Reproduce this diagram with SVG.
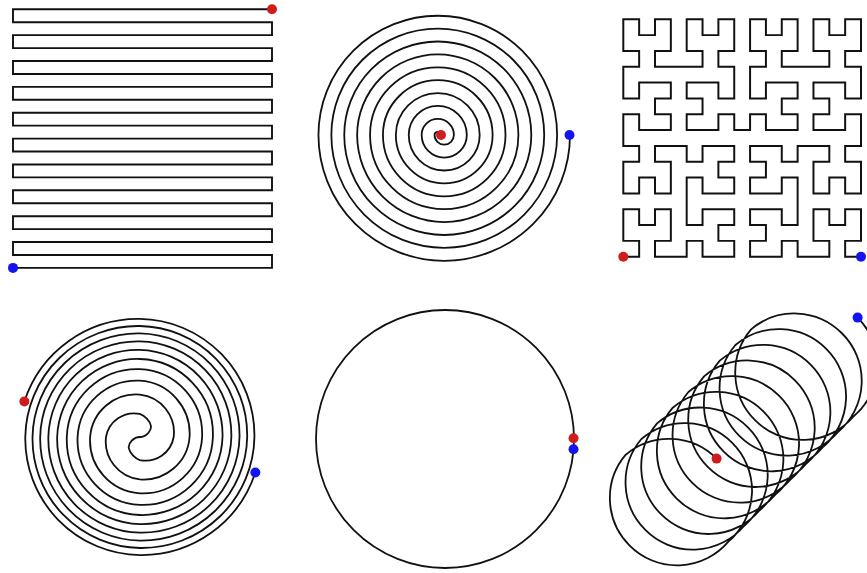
<svg xmlns="http://www.w3.org/2000/svg" width="867" height="573" viewBox="0 0 867 573">
<style>
.ln{fill:none;stroke:#111;stroke-width:1.9;stroke-linejoin:miter}
.sp{fill:none;stroke:#111;stroke-width:1.8;stroke-linecap:round}
.hil{fill:none;stroke:#111;stroke-width:0.125;stroke-linecap:butt;stroke-linejoin:miter}
.red{fill:#d01c1c}
.blue{fill:#1414f0}
</style>
<rect width="867" height="573" fill="#fff"/>

<g id="zigzag">
<path class="ln" d="M272 9.3H13V22.23H272V35.16H13V48.09H272V61.02H13V73.95H272V86.88H13V99.81H272V112.74H13V125.67H272V138.6H13V151.53H272V164.46H13V177.39H272V190.32H13V203.25H272V216.18H13V229.11H272V242.04H13V254.97H272V267.9H13"/>
<circle class="red" cx="272" cy="9.3" r="5"/>
<circle class="blue" cx="13" cy="267.9" r="5"/>
</g>

<g id="archimedean">
<path class="sp" d="M441 135A3.225 3.225 0 0 0 434.55 135A9.675 9.675 0 0 0 453.9 135A16.125 16.125 0 0 0 421.65 135A22.575 22.575 0 0 0 466.8 135A29.025 29.025 0 0 0 408.75 135A35.475 35.475 0 0 0 479.7 135A41.925 41.925 0 0 0 395.85 135A48.375 48.375 0 0 0 492.6 135A54.825 54.825 0 0 0 382.95 135A61.275 61.275 0 0 0 505.5 135A67.725 67.725 0 0 0 370.05 135A74.175 74.175 0 0 0 518.4 135A80.625 80.625 0 0 0 357.15 135A87.075 87.075 0 0 0 531.3 135A93.525 93.525 0 0 0 344.25 135A99.975 99.975 0 0 0 544.2 135A106.425 106.425 0 0 0 331.35 135A112.875 112.875 0 0 0 557.1 135A119.325 119.325 0 0 0 318.45 135A125.775 125.775 0 0 0 570 135"/>
<circle class="red" cx="441" cy="135" r="5"/>
<circle class="blue" cx="569.5" cy="135" r="5"/>
</g>

<g id="hilbert">
<g class="hil" transform="matrix(15.847 0 0 -15.827 623.3 256.7)">
<path d="M0 0
h1v1h-1v1v1h1v-1h1v1h1v-1v-1h-1v-1h1
h1
v1h1v-1h1h1v1h-1v1h1v1h-1h-1v-1h-1v1
v1
v1h1v-1h1h1v1h-1v1h1v1h-1h-1v-1h-1v1
h-1
h-1v-1h1v-1v-1h-1v1h-1v-1h-1v1v1h1v1h-1
v1
v1h1v-1h1h1v1h-1v1h1v1h-1h-1v-1h-1v1
v1
h1v1h-1v1v1h1v-1h1v1h1v-1v-1h-1v-1h1
h1
h1v1h-1v1v1h1v-1h1v1h1v-1v-1h-1v-1h1
v-1
v-1h-1v1h-1h-1v-1h1v-1h-1v-1h1h1v1h1v-1
h1
v1h1v-1h1h1v1h-1v1h1v1h-1h-1v-1h-1v1
v1
h1v1h-1v1v1h1v-1h1v1h1v-1v-1h-1v-1h1
h1
h1v1h-1v1v1h1v-1h1v1h1v-1v-1h-1v-1h1
v-1
v-1h-1v1h-1h-1v-1h1v-1h-1v-1h1h1v1h1v-1
v-1
h-1v-1h1v-1v-1h-1v1h-1v-1h-1v1v1h1v1h-1
h-1
v-1h-1v1h-1h-1v-1h1v-1h-1v-1h1h1v1h1v-1
v-1
v-1h-1v1h-1h-1v-1h1v-1h-1v-1h1h1v1h1v-1
h1
h1v1h-1v1v1h1v-1h1v1h1v-1v-1h-1v-1h1"/>
</g>
<circle class="red" cx="623.3" cy="256.7" r="5"/>
<circle class="blue" cx="861" cy="256.7" r="5"/>
</g>

<g id="fermat">
<path id="fermatB" class="sp" d="M139.85 437C145.85 437 151.75 430.83 150.9 425.9S144.57 415.63 139.85 413.96A28.44 28.44 0 0 0 106.01 437A38.12 38.12 0 0 0 139.85 479.39A46.06 46.06 0 0 0 189.57 437A53 53 0 0 0 139.85 380.72A59.28 59.28 0 0 0 77.58 437A65.05 65.05 0 0 0 139.85 504.83A70.44 70.44 0 0 0 212.9 437A75.52 75.52 0 0 0 139.85 359.01A80.34 80.34 0 0 0 57.17 437A84.93 84.93 0 0 0 139.85 524.18A89.34 89.34 0 0 0 231.34 437A93.57 93.57 0 0 0 139.85 341.36A97.65 97.65 0 0 0 40.19 437A101.61 101.61 0 0 0 139.85 540.56A105.45 105.45 0 0 0 247.18 437A109.17 109.17 0 0 0 139.85 326A112.79 112.79 0 0 0 25.28 437A116.31 116.31 0 0 0 139.85 555.05A119.44 119.44 0 0 0 255.33 472.52"/>
<use href="#fermatB" transform="rotate(180 139.85 437)"/>
<circle class="red" cx="24.37" cy="401.48" r="5"/>
<circle class="blue" cx="255.33" cy="472.52" r="5"/>
</g>

<g id="circle">
<circle class="sp" cx="445" cy="439" r="129"/>
<circle class="red" cx="573.5" cy="438.2" r="5"/>
<circle class="blue" cx="573.5" cy="449.3" r="5"/>
</g>

<g id="trochoid">
<path class="sp" d="M716.58 458.62A67 67 0 0 0 625.74 454.7A67 67 0 0 0 629.66 545.54A67 67 0 0 0 728.33 541.63A67 67 0 0 0 732.25 442.95A67 67 0 0 0 641.41 439.03A67 67 0 0 0 645.33 529.87A67 67 0 0 0 744 525.96A67 67 0 0 0 747.92 427.28A67 67 0 0 0 657.08 423.36A67 67 0 0 0 661 514.2A67 67 0 0 0 759.67 510.29A67 67 0 0 0 763.59 411.61A67 67 0 0 0 672.75 407.69A67 67 0 0 0 676.67 498.53A67 67 0 0 0 775.34 494.62A67 67 0 0 0 779.26 395.94A67 67 0 0 0 688.42 392.02A67 67 0 0 0 692.34 482.86A67 67 0 0 0 791.01 478.95A67 67 0 0 0 794.93 380.27A67 67 0 0 0 704.09 376.35A67 67 0 0 0 708.01 467.19A67 67 0 0 0 806.68 463.28A67 67 0 0 0 810.6 364.6A67 67 0 0 0 719.76 360.68A67 67 0 0 0 723.68 451.52A67 67 0 0 0 822.35 447.61A67 67 0 0 0 826.27 348.93A67 67 0 0 0 735.43 345.01A67 67 0 0 0 739.35 435.85A67 67 0 0 0 838.02 431.94A67 67 0 0 0 841.94 333.26A67 67 0 0 0 751.1 329.34A67 67 0 0 0 755.02 420.18A67 67 0 0 0 853.69 416.27A67 67 0 0 0 857.61 317.59"/>
<circle class="red" cx="716.58" cy="458.62" r="5"/>
<circle class="blue" cx="857.61" cy="317.59" r="5"/>
</g>
</svg>
